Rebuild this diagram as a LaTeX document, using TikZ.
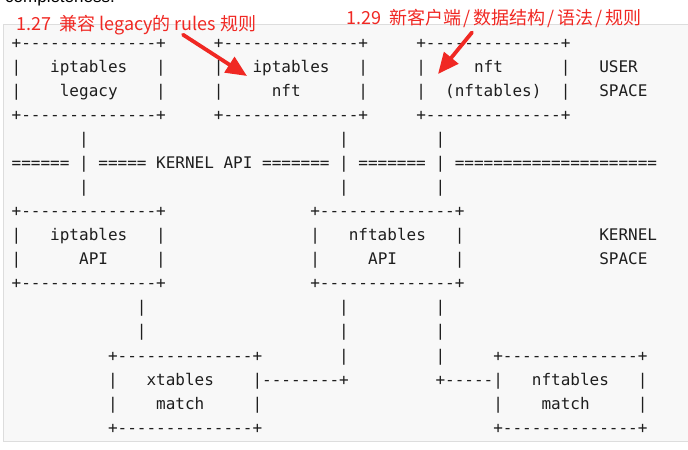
\documentclass[tikz,border=0pt]{standalone}
\usepackage{fontspec}
\setmonofont{DejaVu Sans Mono}
\newfontfamily\cjk{Noto Sans CJK SC}
\newfontfamily\bodyfont{Liberation Sans}
\usetikzlibrary{arrows.meta}

\definecolor{notered}{RGB}{240,40,35}
\definecolor{codebg}{RGB}{248,248,248}
\definecolor{codeline}{RGB}{221,221,221}
\definecolor{codeink}{RGB}{30,30,30}

% n blank columns of the mono font
\newcommand\blank[1]{\hskip#1\fontcharwd\font`x\relax}
\newcommand\boxedge{+--------------+}
% slash with a little air, as in the notes
\newcommand\noteslash{\kern2.5bp/\kern2.5bp}

\begin{document}
\begin{tikzpicture}[x=1bp, y=-1bp,
    asciirow/.style={anchor=base west, inner sep=0pt, text=codeink,
                     font=\ttfamily\fontsize{16bp}{24bp}\selectfont},
    note/.style={anchor=base west, inner sep=0pt, text=notered,
                 font=\cjk\fontsize{18bp}{21bp}\selectfont},
    notearrow/.style={draw=notered, line width=3.8bp, line cap=round,
                      -{Triangle[length=21bp,width=18bp]}}]

    \useasboundingbox (0,0) rectangle (688,450);

    \node[anchor=base west, inner sep=0pt,
          font=\bodyfont\fontsize{17bp}{20bp}\selectfont] (intro) at (5,2.5) {completeness.};
    \draw[codeline, fill=codebg] (3.3,24) rectangle (700,440.7);

    \begin{scope}[every node/.style=asciirow]
        \node (row1)  at (11.5,49)  {\boxedge\blank{5}\boxedge\blank{5}\boxedge};
        \node (row2)  at (11.5,73)  {|\blank{3}iptables\blank{3}|\blank{5}|\blank{3}iptables\blank{3}|\blank{5}|\blank{5}nft\blank{6}|\blank{3}USER};
        \node (row3)  at (11.5,97)  {|\blank{4}legacy\blank{4}|\blank{5}|\blank{5}nft\blank{6}|\blank{5}|\blank{2}(nftables)\blank{2}|\blank{3}SPACE};
        \node (row4)  at (11.5,121) {\boxedge\blank{5}\boxedge\blank{5}\boxedge};
        \node (row5)  at (11.5,145) {\blank{7}|\blank{26}|\blank{9}|};
        \node (row6)  at (11.5,169) {======\blank{1}|\blank{1}=====\blank{1}KERNEL\blank{1}API\blank{1}=======\blank{1}|\blank{1}=======\blank{1}|\blank{1}=====================};
        \node (row7)  at (11.5,193) {\blank{7}|\blank{26}|\blank{9}|};
        \node (row8)  at (11.5,217) {\boxedge\blank{15}\boxedge};
        \node (row9)  at (11.5,241) {|\blank{3}iptables\blank{3}|\blank{15}|\blank{3}nftables\blank{3}|\blank{14}KERNEL};
        \node (row10) at (11.5,265) {|\blank{6}API\blank{5}|\blank{15}|\blank{5}API\blank{6}|\blank{14}SPACE};
        \node (row11) at (11.5,289) {\boxedge\blank{15}\boxedge};
        \node (row12) at (11.5,313) {\blank{13}|\blank{20}|\blank{9}|};
        \node (row13) at (11.5,337) {\blank{13}|\blank{20}|\blank{9}|};
        \node (row14) at (11.5,361) {\blank{10}\boxedge\blank{8}|\blank{9}|\blank{5}\boxedge};
        \node (row15) at (11.5,385) {\blank{10}|\blank{3}xtables\blank{4}|--------+\blank{9}+-----|\blank{3}nftables\blank{3}|};
        \node (row16) at (11.5,409) {\blank{10}|\blank{4}match\blank{5}|\blank{24}|\blank{4}match\blank{5}|};
        \node (row17) at (11.5,433) {\blank{10}\boxedge\blank{24}\boxedge};
    \end{scope}

    % red notes
    \node[note] (note127) at (16,31) {1.27\ \ 兼容 legacy的 rules 规则};
    \node[note] (note129) at (346,25) {1.29\ \ 新客户端\noteslash 数据结构\noteslash 语法\noteslash 规则};
    \coordinate (tip127) at (247,76);
    \coordinate (tip129) at (438,74);
    \draw[notearrow] ([xshift=167bp,yshift=1bp]note127.south west) -- (tip127);
    \draw[notearrow] ([xshift=126bp,yshift=-4bp]note129.south west) -- (tip129);
\end{tikzpicture}
\end{document}
